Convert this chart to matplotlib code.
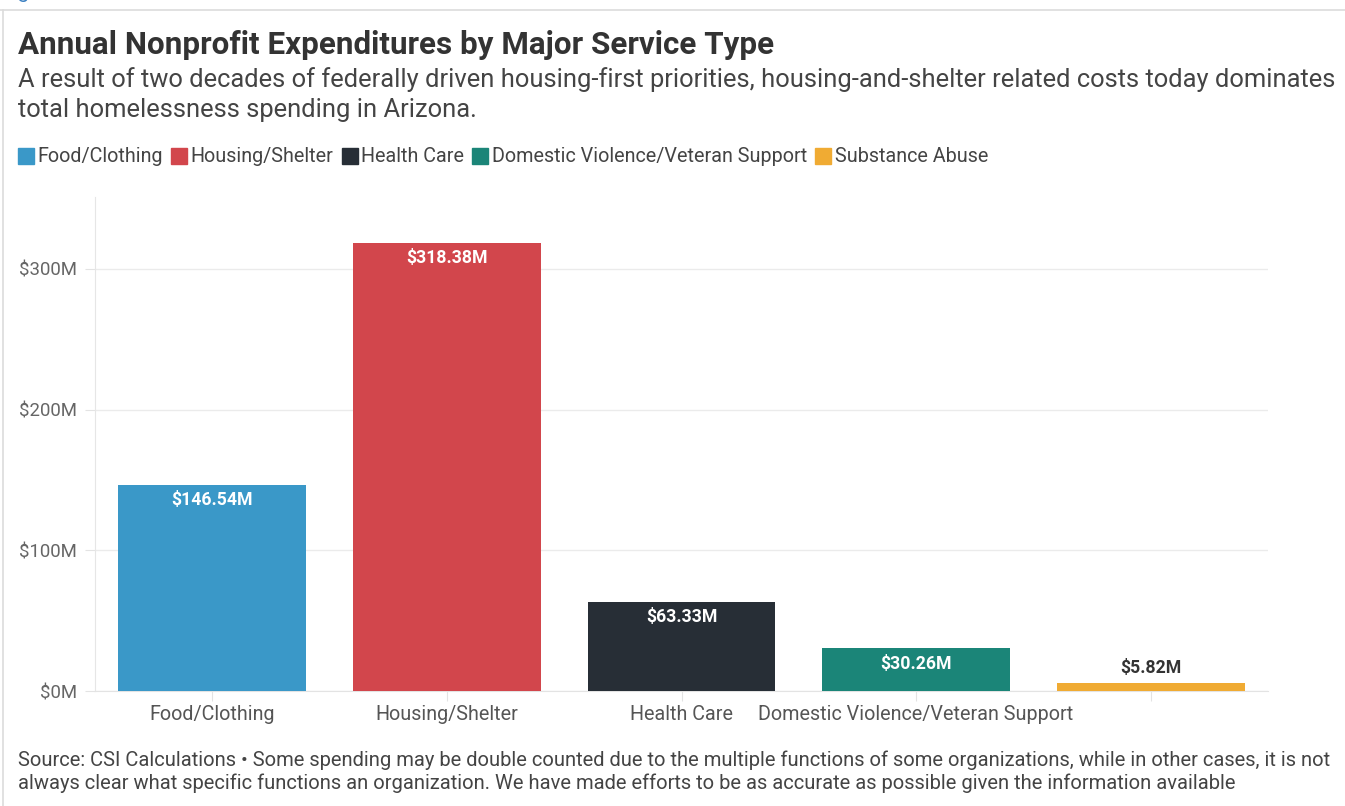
import matplotlib.pyplot as plt
from matplotlib.lines import Line2D

plt.rcParams['font.family'] = ['Roboto', 'DejaVu Sans']

# Dades del gràfic
categories = ['Food/Clothing', 'Housing/Shelter', 'Health Care',
              'Domestic Violence/Veteran Support', 'Substance Abuse']
values = [146.54, 318.38, 63.33, 30.26, 5.82]
value_labels = ['$146.54M', '$318.38M', '$63.33M', '$30.26M', '$5.82M']
tick_labels = ['Food/Clothing', 'Housing/Shelter', 'Health Care',
               'Domestic Violence/Veteran Support', '']
y_ticks = [0, 100, 200, 300]
y_tick_labels = ['$0M', '$100M', '$200M', '$300M']
colors = ['#3a98c8', '#d2464c', '#272e36', '#1b8578', '#f0ab33']

W, H = 1345, 806
fig = plt.figure(figsize=(W / 100, H / 100), dpi=100)
fig.patch.set_facecolor('white')


def fx(px):
    return px / W


def fy(py):
    return 1 - py / H


# Marc de la figura
fig.add_artist(Line2D([0, 1], [fy(10), fy(10)], color='#dcdcdc', lw=1.2))
fig.add_artist(Line2D([fx(3), fx(3)], [fy(10), 0], color='#dcdcdc', lw=1.2))
fig.text(fx(1), fy(-2), 'Figure', color='#3a7fc1', fontsize=15, va='baseline')

# Títol i subtítol
fig.text(fx(18), fy(45), 'Annual Nonprofit Expenditures by Major Service Type',
         fontsize=22.6, fontweight='bold', color='#333333', va='center')
fig.text(fx(18), fy(80),
         'A result of two decades of federally driven housing-first priorities, '
         'housing-and-shelter related costs today dominates',
         fontsize=18.4, color='#444444', va='center')
fig.text(fx(18), fy(110), 'total homelessness spending in Arizona.',
         fontsize=18.4, color='#444444', va='center')

# Eixos
ax = fig.add_axes([fx(95), 1 - 691 / H, fx(1268 - 95), (691 - 197) / H])
x = list(range(len(categories)))
ax.bar(x, values, width=0.8, color=colors, zorder=3)

ax.set_xlim(-0.5, len(categories) - 0.5)
ax.set_ylim(0, 351)
ax.set_yticks(y_ticks)
ax.set_yticklabels(y_tick_labels)
ax.set_xticks(x)
ax.set_xticklabels(tick_labels)
ax.tick_params(axis='y', length=7, color='#e3e3e3', labelsize=13.4,
               labelcolor='#666666', pad=6)
ax.tick_params(axis='x', length=7, color='#e3e3e3', labelsize=14.2,
               labelcolor='#555555', pad=3)
ax.grid(axis='y', color='#ebebeb', lw=1, zorder=0)
for side in ['top', 'right']:
    ax.spines[side].set_visible(False)
ax.spines['left'].set_color('#e6e6e6')
ax.spines['bottom'].set_color('#e3e3e3')

# Etiquetes de valor
for i, (v, lab) in enumerate(zip(values, value_labels)):
    if v > 20:
        ax.annotate(lab, (i, v), xytext=(0, -11), textcoords='offset points',
                    ha='center', va='center', color='white', fontsize=12.7,
                    fontweight='bold', zorder=4)
    else:
        ax.annotate(lab, (i, v), xytext=(0, 11), textcoords='offset points',
                    ha='center', va='center', color='#333333', fontsize=12.7,
                    fontweight='bold', zorder=4)

# Llegenda
handles = [Line2D([], [], marker='s', ls='', markersize=11, color=c) for c in colors]
fig.legend(handles, categories, loc='center left', bbox_to_anchor=(fx(19), fy(157)),
           ncol=5, frameon=False, fontsize=14.2, handlelength=0.7,
           handletextpad=0.25, columnspacing=0.45, labelcolor='#444444',
           borderaxespad=0, borderpad=0)

# Nota al peu
fig.text(fx(18), fy(760),
         'Source: CSI Calculations \u2022 Some spending may be double counted due to the '
         'multiple functions of some organizations, while in other cases, it is not',
         fontsize=14.5, color='#444444', va='center')
fig.text(fx(18), fy(783),
         'always clear what specific functions an organization. We have made efforts '
         'to be as accurate as possible given the information available',
         fontsize=14.5, color='#444444', va='center')

fig.savefig('out.png', dpi=100)
